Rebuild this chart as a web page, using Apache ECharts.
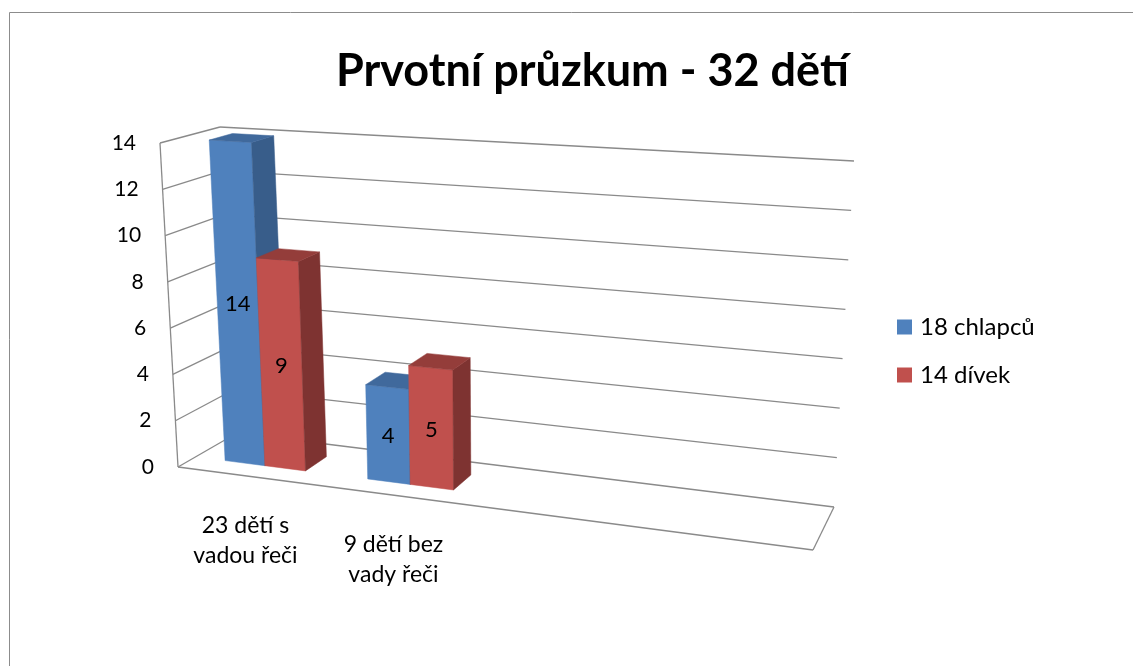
<!DOCTYPE html>
<html>
<head>
<meta charset="utf-8">
<script src="https://cdn.jsdelivr.net/npm/echarts@6/dist/echarts.min.js"></script>
<style>
  html, body { margin: 0; padding: 0; background: #fff; }
  #chart { width: 1133px; height: 666px; }
</style>
</head>
<body>
<div id="chart"></div>
<script>
const chartTitle = 'Prvotní průzkum - 32 dětí';
const categories = ['23 dětí s\nvadou řeči', '9 dětí bez\nvady řeči'];
const seriesNames = ['18 chlapců', '14 dívek'];
const boys = [14, 4];
const girls = [9, 5];
const yTicks = [0, 2, 4, 6, 8, 10, 12, 14];

const font = 'Lato, "Open Sans", sans-serif';
const gridColor = '#8a8a8a';
// front / side / top face colours per series
const faces = [
  ['#4F81BD', '#385D8A', '#40699C'],
  ['#C0504D', '#7E3331', '#943D3A']
];

// corners of the 3d plot box on screen (front/back, left/right, bottom/top)
const box = {
  flb: [178, 467], frb: [813, 550], blb: [237, 433], brb: [834, 507],
  flt: [160, 143], frt: [834, 184], blt: [220, 127], brt: [854, 161]
};
const persp = -0.126;   // foreshortening along the category direction
const depth0 = 0.3, depth1 = 0.7;  // bar depth inside the box

function lerp(a, b, t) {
  return [a[0] + (b[0] - a[0]) * t, a[1] + (b[1] - a[1]) * t];
}
// u: across categories, v: value, w: depth (0 front, 1 back), all 0..1
function project(u, v, w) {
  u = (1 + persp) * u / (1 + persp * u);
  const bot = lerp(lerp(box.flb, box.frb, u), lerp(box.blb, box.brb, u), w);
  const top = lerp(lerp(box.flt, box.frt, u), lerp(box.blt, box.brt, u), w);
  return lerp(bot, top, v);
}
function toUnit(params, pt) {
  const cs = params.coordSys;
  return [(pt[0] - cs.x) / cs.width, (cs.y + cs.height - pt[1]) / cs.height];
}
function poly(pts, fill) {
  return { type: 'polygon', shape: { points: pts }, style: { fill: fill, stroke: fill, lineWidth: 0.5 } };
}
function seg(a, b) {
  return {
    type: 'line',
    shape: { x1: a[0], y1: a[1], x2: b[0], y2: b[1] },
    style: { stroke: gridColor, lineWidth: 1.3 }
  };
}

function renderWalls(params, api) {
  const t = api.value(1);
  const v = toUnit(params, api.coord([0, t]))[1];
  const children = [
    seg(project(0, v, 0), project(0, v, 1)),
    seg(project(0, v, 1), project(1, v, 1))
  ];
  const p = project(0, v, 0);
  children.push({
    type: 'text',
    style: {
      text: String(t), x: p[0] - 24, y: p[1],
      align: 'right', verticalAlign: 'middle',
      fill: '#000', fontSize: 21, fontFamily: font
    }
  });
  if (t === yTicks[0]) {
    children.push(seg(project(0, 0, 0), project(1, 0, 0)));
    children.push(seg(project(1, 0, 0), project(1, 0, 1)));
    children.push(seg(project(0, 0, 0), project(0, 1, 0)));
  }
  return { type: 'group', children: children };
}

function renderCategory(params, api) {
  const idx = api.value(0);
  const u = toUnit(params, api.coord([idx, 0]))[0];
  const p = project(u, 0, 0);
  return {
    type: 'text',
    style: {
      text: categories[idx], x: p[0] - 3, y: p[1] + 64,
      align: 'center', verticalAlign: 'middle', lineHeight: 30,
      fill: '#000', fontSize: 23, fontFamily: font
    }
  };
}

function makeBarRenderer(s) {
  return function (params, api) {
    const idx = api.value(0);
    const val = api.value(1);
    const c = api.coord([idx, val]);
    const barW = api.size([1, 0])[0] / 3.5;
    const x0 = c[0] - barW + s * barW;
    const u0 = toUnit(params, [x0, c[1]])[0];
    const u1 = toUnit(params, [x0 + barW, c[1]])[0];
    const v = toUnit(params, c)[1];
    const col = faces[s];
    const front = [project(u0, 0, depth0), project(u1, 0, depth0), project(u1, v, depth0), project(u0, v, depth0)];
    const side = [project(u1, 0, depth0), project(u1, 0, depth1), project(u1, v, depth1), project(u1, v, depth0)];
    const top = [project(u0, v, depth0), project(u1, v, depth0), project(u1, v, depth1), project(u0, v, depth1)];
    const mid = [
      (front[0][0] + front[1][0] + front[2][0] + front[3][0]) / 4,
      (front[0][1] + front[1][1] + front[2][1] + front[3][1]) / 4
    ];
    return {
      type: 'group',
      children: [
        poly(front, col[0]),
        poly(side, col[1]),
        poly(top, col[2]),
        {
          type: 'text',
          style: {
            text: String(val), x: mid[0], y: mid[1] + 2,
            align: 'center', verticalAlign: 'middle',
            fill: '#000', fontSize: 22, fontFamily: font
          }
        }
      ]
    };
  };
}

const chart = echarts.init(document.getElementById('chart'));
chart.setOption({
  backgroundColor: '#fff',
  animation: false,
  title: {
    text: chartTitle,
    left: 331,
    top: 44,
    textStyle: { fontSize: 45, fontWeight: 'bold', color: '#000', fontFamily: font }
  },
  legend: {
    data: seriesNames,
    orient: 'vertical',
    left: 892,
    top: 310,
    icon: 'rect',
    itemWidth: 15,
    itemHeight: 15,
    itemGap: 24,
    selectedMode: false,
    textStyle: { fontSize: 24, color: '#000', fontFamily: font, padding: [0, 0, 0, 3] }
  },
  graphic: [{
    type: 'rect',
    shape: { x: 9.5, y: 12.5, width: 1200, height: 700 },
    style: { fill: 'none', stroke: '#8c8c8c', lineWidth: 1 },
    silent: true
  }],
  grid: { left: 178, top: 143, width: 635, height: 324 },
  xAxis: { type: 'category', data: categories, max: 3, show: false },
  yAxis: { type: 'value', min: 0, max: 14, interval: 2, show: false },
  series: [
    {
      name: 'walls', type: 'custom', silent: true, clip: false,
      data: yTicks.map(t => [0, t]), encode: { x: 0, y: 1 },
      renderItem: renderWalls
    },
    {
      name: seriesNames[0], type: 'custom', silent: true, clip: false,
      itemStyle: { color: faces[0][0] },
      data: boys.map((v, i) => [i, v]), encode: { x: 0, y: 1 },
      renderItem: makeBarRenderer(0)
    },
    {
      name: seriesNames[1], type: 'custom', silent: true, clip: false,
      itemStyle: { color: faces[1][0] },
      data: girls.map((v, i) => [i, v]), encode: { x: 0, y: 1 },
      renderItem: makeBarRenderer(1)
    },
    {
      name: 'categories', type: 'custom', silent: true, clip: false,
      data: categories.map((c, i) => [i, 0]), encode: { x: 0, y: 1 },
      renderItem: renderCategory
    }
  ]
});
</script>
</body>
</html>
